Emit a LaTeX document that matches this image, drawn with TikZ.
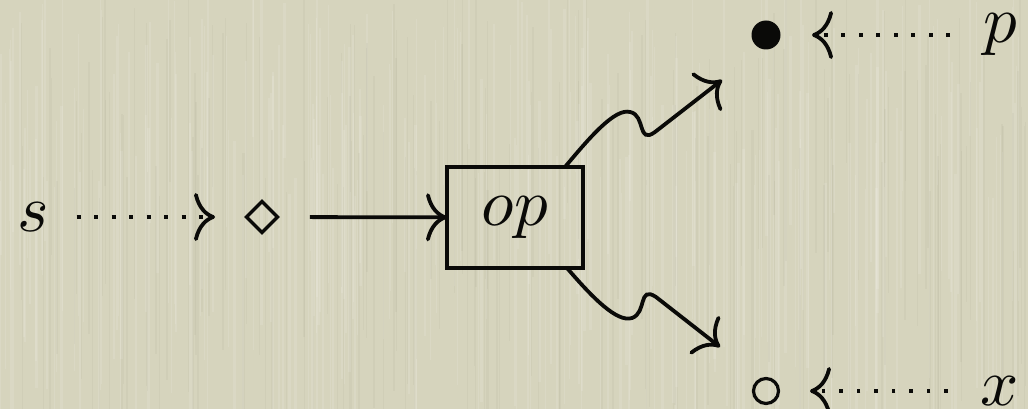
\documentclass[tikz,border=0pt]{standalone}
\usepackage{graphicx}
\usetikzlibrary{arrows.meta,shapes.geometric,calc}
\definecolor{paper}{RGB}{214,212,189}
\definecolor{ink}{RGB}{10,10,8}
% large math letters: cmmi10 set at 10pt and enlarged
\newcommand{\biglbl}[1]{\scalebox{6.7}{\normalsize$#1$}}
\begin{document}
\begin{tikzpicture}[x=1pt,y=-1pt,
  every node/.style={inner sep=0pt, outer sep=0pt},
  lbl/.style={text=ink},
  wire/.style={draw=ink, line width=3.8pt},
  dotwire/.style={wire, dash pattern=on 3.8pt off 13.7pt},
  >={Computer Modern Rightarrow[length=21pt,width=48pt,line width=3.8pt]},
]
\useasboundingbox (0,0) rectangle (1028,409);
% paper background with faint vertical grain
\fill[paper] (0,0) rectangle (1028,409);
\begin{scope}
  \clip (0,0) rectangle (1028,409);
  \pgfmathsetseed{11}
  \foreach \i in {1,...,260}{
    \pgfmathsetmacro{\xx}{rnd*1028}
    \pgfmathsetmacro{\ww}{0.6+rnd*2.4}
    \pgfmathsetmacro{\ya}{rnd*220-20}
    \pgfmathsetmacro{\yb}{\ya+150+rnd*260}
    \draw[white, opacity=0.11, line width=\ww pt] (\xx,\ya) -- (\xx,\yb);
  }
  \foreach \i in {1,...,160}{
    \pgfmathsetmacro{\xx}{rnd*1028}
    \pgfmathsetmacro{\ww}{0.6+rnd*1.6}
    \pgfmathsetmacro{\ya}{rnd*220-20}
    \pgfmathsetmacro{\yb}{\ya+150+rnd*260}
    \draw[black!60!olive, opacity=0.04, line width=\ww pt] (\xx,\ya) -- (\xx,\yb);
  }
\end{scope}

% objects
\node[lbl] (s) at (33,217) {\biglbl{s}};
\node[diamond, draw=ink, line width=3.4pt, minimum size=31pt] (src) at (262,217) {};
\node[draw=ink, line width=3.5pt, minimum width=136pt, minimum height=101pt, lbl] (op) at (515,217.5) {\biglbl{op}};
\node[circle, fill=ink, minimum size=29pt] (full) at (766,35) {};
\node[circle, draw=ink, line width=3.2pt, minimum size=25pt] (hollow) at (766,391) {};
\node[lbl] (p) at (1000,35) {\biglbl{p}};
\node[lbl] (x) at (1000,391) {\biglbl{x}};

% straight connectors
\draw[dotwire, ->, shorten <=28pt, shorten >=31.5pt] (s) -- (src);
\draw[wire, ->, shorten <=32.5pt] (src) -- (op);
\draw[dotwire, ->, shorten <=33pt, shorten >=31.5pt] (p) -- (full);
\draw[dotwire, ->, shorten <=33pt, shorten >=31.5pt] (x) -- (hollow);

% squiggly outputs of the box
\draw[wire, ->] ([xshift=-18pt]op.north east)
  .. controls (590,137) and (615,108) .. (630,112)
  .. controls (646,115) and (637,145) .. (655,132)
  -- ($(full)+(-44,45)$);
\draw[wire, ->] ([xshift=-16pt]op.south east)
  .. controls (592,297) and (617,323) .. (632,318)
  .. controls (647,313) and (638,285) .. (656,297)
  -- ($(hollow)+(-46,-44)$);
\end{tikzpicture}
\end{document}
